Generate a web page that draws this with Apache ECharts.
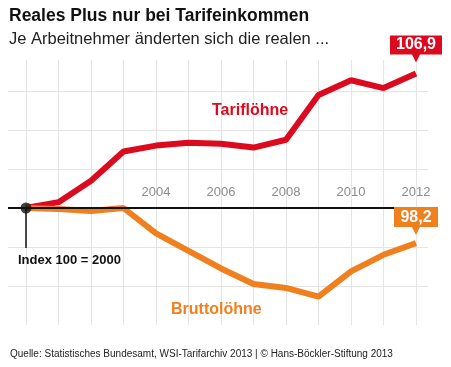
<!DOCTYPE html>
<html><head><meta charset="utf-8">
<script src="https://cdn.jsdelivr.net/npm/echarts@6/dist/echarts.min.js"></script>
<style>html,body{margin:0;padding:0;background:#fff}#c{width:451px;height:367px}</style>
</head><body><div id="c"></div>
<script>
const years = [2000,2001,2002,2003,2004,2005,2006,2007,2008,2009,2010,2011,2012];
const tarif = [100,100.3,101.4,102.9,103.2,103.35,103.3,103.1,103.5,105.8,106.55,106.15,106.9];
const brutto = [100,99.95,99.85,100.0,98.7,97.8,96.9,96.1,95.9,95.45,96.75,97.6,98.2];
const yearLabels = [2004,2006,2008,2010,2012];
const endLabels = ['106,9','98,2'];
const RED = '#dc0a1e', ORANGE = '#f07f1e';
const FONT = 'Liberation Sans, Arial, sans-serif';

const chart = echarts.init(document.getElementById('c'), null, {renderer:'canvas'});
const last = years.length - 1;
chart.setOption({
  animation:false,
  textStyle:{fontFamily:FONT},
  title:{text:'Reales Plus nur bei Tarifeinkommen', subtext:'Je Arbeitnehmer änderten sich die realen ...',
    left:4, top:2, itemGap:6,
    textStyle:{fontSize:17.5,fontWeight:'bold',color:'#111',fontFamily:FONT},
    subtextStyle:{fontSize:16.5,color:'#222',fontFamily:FONT}},
  grid:[{left:8,right:23,top:91,bottom:81},{left:26,right:35,top:60,bottom:42}],
  xAxis:[
    {gridIndex:0,type:'value',min:1999.446,max:2012.37,show:false},
    {gridIndex:1,type:'value',min:2000,max:2012,interval:1,position:'bottom',offset:-117,
     axisLine:{show:false},axisTick:{show:false},
     splitLine:{show:true,lineStyle:{color:'#e4e4e4',width:1}},
     axisLabel:{inside:true,margin:9,color:'#8c8c8c',fontSize:13,fontFamily:FONT,
       formatter:v=>yearLabels.includes(v)?String(v):''}}
  ],
  yAxis:[
    {gridIndex:0,type:'value',min:96,max:106,interval:2,axisLabel:{show:false},axisLine:{show:false},axisTick:{show:false},
     splitLine:{show:true,lineStyle:{color:'#e4e4e4',width:1}}},
    {gridIndex:1,type:'value',min:94,max:107.59,show:false,splitLine:{show:false}}
  ],
  series:[
    {type:'line',xAxisIndex:0,yAxisIndex:0,data:[[2000,100]],symbol:'none',lineStyle:{opacity:0},z:1,
     markLine:{symbol:'none',silent:true,animation:false,label:{show:false},
       data:[
         [{coord:[1999.446,100],lineStyle:{color:'#111',width:2,type:'solid'}},{coord:[2011.4,100]}],
         [{coord:[2000,100],lineStyle:{color:'#111',width:1.5,type:'solid'}},{coord:[2000,97.95]}]
       ]}},
    {name:'Tariflöhne',type:'line',xAxisIndex:1,yAxisIndex:1,z:3,
     data:years.map((y,i)=>[y,tarif[i]]),symbol:'none',lineStyle:{color:RED,width:6},
     markPoint:{silent:true,animation:false,
       symbol:'path://M0,0 L52,0 L52,19 L30,19 L26,27 L22,19 L0,19 Z',symbolSize:[52,27],symbolOffset:[0,-24.5],
       itemStyle:{color:RED},
       label:{show:true,position:'inside',offset:[0,-4],color:'#fff',fontWeight:'bold',fontSize:16,fontFamily:FONT,formatter:endLabels[0]},
       data:[{coord:[years[last],tarif[last]]}]}},
    {name:'Bruttolöhne',type:'line',xAxisIndex:1,yAxisIndex:1,z:4,
     data:years.map((y,i)=>[y,brutto[i]]),symbol:'none',lineStyle:{color:ORANGE,width:6},
     markPoint:{silent:true,animation:false,
       symbol:'path://M0,0 L44,0 L44,20 L26,20 L22,28 L18,20 L0,20 Z',symbolSize:[44,28],symbolOffset:[0,-22],
       itemStyle:{color:ORANGE},
       label:{show:true,position:'inside',offset:[0,-4],color:'#fff',fontWeight:'bold',fontSize:16,fontFamily:FONT,formatter:endLabels[1]},
       data:[{coord:[years[last],brutto[last]]}]}},
    {type:'scatter',xAxisIndex:1,yAxisIndex:1,z:6,data:[[years[0],100]],symbolSize:11,itemStyle:{color:'#111'},silent:true}
  ],
  graphic:[
    {type:'text',z:100,left:212,top:103,style:{text:'Tariflöhne',fill:RED,font:'bold 16px '+FONT}},
    {type:'text',z:100,left:171,top:302,style:{text:'Bruttolöhne',fill:ORANGE,font:'bold 16px '+FONT}},
    {type:'text',z:100,left:18,top:254,style:{text:'Index 100 = 2000',fill:'#111',font:'bold 13px '+FONT}},
    {type:'text',z:100,left:10,top:349,style:{text:'Quelle: Statistisches Bundesamt, WSI-Tarifarchiv 2013 | © Hans-Böckler-Stiftung 2013',fill:'#222',font:'10px '+FONT}}
  ]
});
</script></body></html>
